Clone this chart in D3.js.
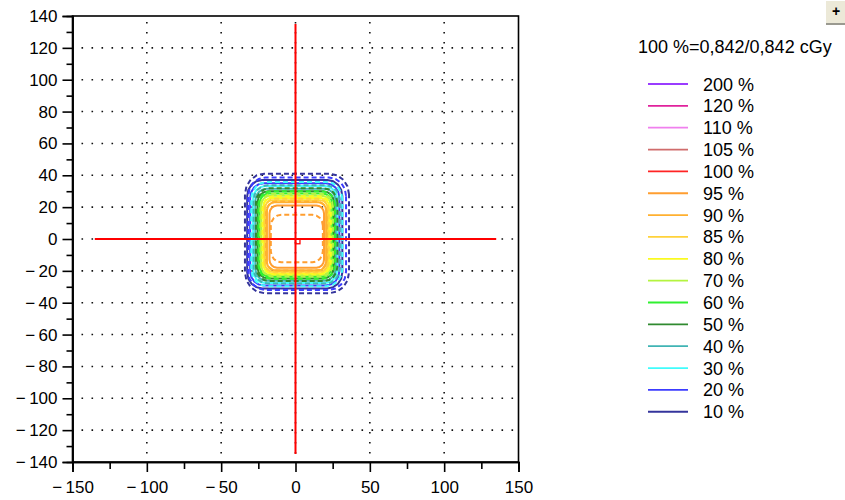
<!DOCTYPE html>
<html>
<head>
<meta charset="utf-8">
<script src="https://cdn.jsdelivr.net/npm/d3@7/dist/d3.min.js"></script>
<style>
  body { margin: 0; background: #fff; }
  svg text { font-family: "Liberation Sans", Arial, sans-serif; fill: #000; }
</style>
</head>
<body>
<svg id="chart" width="845" height="500"></svg>
<script>
// Axis ticks (mm)
const xTicks = [-150, -100, -50, 0, 50, 100, 150];
const xMinorTicks = [-125, -75, -25, 25, 75, 125];
const yTicks = [-140, -120, -100, -80, -60, -40, -20, 0, 20, 40, 60, 80, 100, 120, 140];
const yMinorTicks = [-130, -110, -90, -70, -50, -30, -10, 10, 30, 50, 70, 90, 110, 130];
const xGrid = [-100, -50, 0, 50, 100];
const yGrid = [-120, -100, -80, -60, -40, -20, 0, 20, 40, 60, 80, 100, 120];

// Isodose legend
const legendLevels = [200, 120, 110, 105, 100, 95, 90, 85, 80, 70, 60, 50, 40, 30, 20, 10];
const legendColors = ["#9a3cff", "#e0229c", "#f080ee", "#d06c6c", "#ff2424", "#ff9e30", "#ffb030",
                      "#ffd23a", "#fafa20", "#b4f440", "#30f030", "#308a30", "#40b4b4", "#40fcfc", "#3c3cff", "#34349c"];
const normalisation = "100 %=0,842/0,842 cGy";

// Beam axes (cross-hair), half length in mm
const crossHalf = 135;

// Calculated isodose lines (solid): extents in mm and corner radius
const solidLevels = [10, 20, 30, 40, 50, 60, 70, 80, 85, 90, 95];
const solidLeft   = [-32.5, -30.5, -28.5, -27, -25.5, -24.2, -23, -21.6, -20.5, -19.2, -17.5];
const solidRight  = [31.5, 29.5, 28, 27, 25.8, 24.6, 23.6, 22.6, 21.6, 20.6, 19.2];
const solidBottom = [-31, -29.2, -27.6, -26.2, -24.8, -23.6, -22.6, -21.6, -20.6, -19.6, -18];
const solidTop    = [37, 35, 33.2, 31.6, 30, 28.6, 27.2, 25.8, 24.4, 23, 21];
const solidRadius = [10, 9, 8, 7.5, 7, 6.5, 6, 5.5, 5, 5, 5];

// Measured isodose lines (dashed)
const dashLevels = [10, 20, 30, 40, 50, 60, 70, 80, 85, 90, 95];
const dashLeft   = [-34, -31.8, -29.8, -28.2, -26.6, -25, -23.6, -22.2, -21, -19.8, -16.6];
const dashRight  = [36, 34, 31.5, 29.8, 28.2, 26.6, 25.2, 23.8, 22.4, 21, 18.4];
const dashBottom = [-34, -32, -29.6, -28, -26.4, -25, -23.6, -22.2, -21, -19.8, -14.6];
const dashTop    = [41, 38.6, 35.8, 33.8, 31.8, 30, 28.4, 26.8, 25.2, 23.6, 15.2];
const dashRadius = [13, 11.5, 10.5, 9.5, 9, 8.5, 8, 7.5, 7, 7, 7];

const colorOf = lvl => legendColors[legendLevels.indexOf(lvl)];

const svg = d3.select("#chart");
const x = d3.scaleLinear().domain([-150, 150]).range([72.5, 518.5]);
const y = d3.scaleLinear().domain([-140, 140]).range([462, 16]);

const fmt = d => d < 0 ? "\u2212\u2009" + Math.abs(d) : String(d);

// Dotted grid
const grid = svg.append("g").attr("stroke", "#111").attr("stroke-width", 1.6)
  .attr("stroke-dasharray", "1.6 8.4").attr("fill", "none");
grid.selectAll("line.gx").data(xGrid).join("line").attr("class", "gx")
  .attr("x1", d => x(d)).attr("x2", d => x(d)).attr("y1", y(140)).attr("y2", y(-140))
  .attr("stroke-dashoffset", -6);
grid.selectAll("line.gy").data(yGrid).join("line").attr("class", "gy")
  .attr("y1", d => y(d)).attr("y2", d => y(d)).attr("x1", x(-150)).attr("x2", x(150))
  .attr("stroke-dashoffset", -9);

// Rounded rectangle outline for an isodose line
function outline(l, r, b, t, rad) {
  const pts = [];
  const corners = [
    [r - rad, t - rad, 0], [l + rad, t - rad, 90], [l + rad, b + rad, 180], [r - rad, b + rad, 270]
  ];
  corners.forEach(([cx, cy, a0]) => {
    for (let i = 0; i <= 4; i++) {
      const a = (a0 + i * 90 / 4) * Math.PI / 180;
      pts.push([cx + rad * Math.cos(a), cy + rad * Math.sin(a)]);
    }
  });
  return pts;
}
const line = d3.line().x(p => x(p[0])).y(p => y(p[1])).curve(d3.curveLinearClosed);

const iso = svg.append("g").attr("fill", "none").attr("stroke-width", 2);
iso.selectAll("path.solid").data(solidLevels).join("path").attr("class", "solid")
  .attr("stroke", d => colorOf(d))
  .attr("d", (d, i) => line(outline(solidLeft[i], solidRight[i], solidBottom[i], solidTop[i], solidRadius[i])));
iso.selectAll("path.dash").data(dashLevels).join("path").attr("class", "dash")
  .attr("stroke", d => colorOf(d))
  .attr("stroke-dasharray", "5 3")
  .attr("d", (d, i) => line(outline(dashLeft[i], dashRight[i], dashBottom[i], dashTop[i], dashRadius[i])));

// Beam axes and isocentre marker
const axesG = svg.append("g").attr("stroke", "#ff0000").attr("stroke-width", 2).attr("fill", "none");
axesG.append("line").attr("x1", x(-crossHalf)).attr("x2", x(crossHalf)).attr("y1", y(0)).attr("y2", y(0));
axesG.append("line").attr("x1", x(0)).attr("x2", x(0)).attr("y1", y(crossHalf)).attr("y2", y(-crossHalf));
axesG.append("rect").attr("x", x(0)).attr("y", y(0)).attr("width", x(3) - x(0)).attr("height", y(-3) - y(0))
  .attr("stroke-width", 1.3);

// Frame
svg.append("rect").attr("x", x(-150)).attr("y", y(140)).attr("width", x(150) - x(-150))
  .attr("height", y(-140) - y(140)).attr("fill", "none").attr("stroke", "#000").attr("stroke-width", 1.6);

// Axes
svg.append("g").attr("transform", `translate(${x(-150)},0)`)
  .call(d3.axisLeft(y).tickValues(yTicks).tickSize(10).tickPadding(5).tickFormat(fmt));
svg.append("g").attr("transform", `translate(${x(-150)},0)`)
  .call(d3.axisLeft(y).tickValues(yMinorTicks).tickSize(6).tickFormat(""));
svg.append("g").attr("transform", `translate(0,${y(-140)})`)
  .call(d3.axisBottom(x).tickValues(xTicks).tickSize(10).tickPadding(9).tickFormat(fmt));
svg.append("g").attr("transform", `translate(0,${y(-140)})`)
  .call(d3.axisBottom(x).tickValues(xMinorTicks).tickSize(7).tickFormat(""));
svg.selectAll(".domain").attr("stroke", "#000").attr("stroke-width", 1.6);
svg.selectAll(".tick line").attr("stroke", "#000").attr("stroke-width", 1.6);
svg.selectAll(".tick text").style("font-size", "17px").style("font-family", "'Liberation Sans', Arial, sans-serif");

// Legend
svg.append("text").attr("x", 638).attr("y", 53).style("font-size", "18px").text(normalisation);
const rows = svg.append("g").selectAll("g").data(legendLevels).join("g")
  .attr("transform", (d, i) => `translate(0,${84 + i * 21.85})`);
rows.append("line").attr("x1", 648).attr("x2", 688).attr("y1", 0).attr("y2", 0)
  .attr("stroke", (d, i) => legendColors[i]).attr("stroke-width", 1.8);
rows.append("text").attr("x", 703).attr("y", 6.5).style("font-size", "18px").text(d => d + " %");

// Expand button
const btn = svg.append("g");
btn.append("rect").attr("x", 826).attr("y", 1).attr("width", 19).attr("height", 23).attr("fill", "#ece9d8");
btn.append("line").attr("x1", 826).attr("x2", 845).attr("y1", 24).attr("y2", 24).attr("stroke", "#9a9a90").attr("stroke-width", 2);
btn.append("text").attr("x", 836).attr("y", 16).attr("text-anchor", "middle")
  .style("font-size", "14px").style("font-weight", "bold").text("+");
</script>
</body>
</html>
